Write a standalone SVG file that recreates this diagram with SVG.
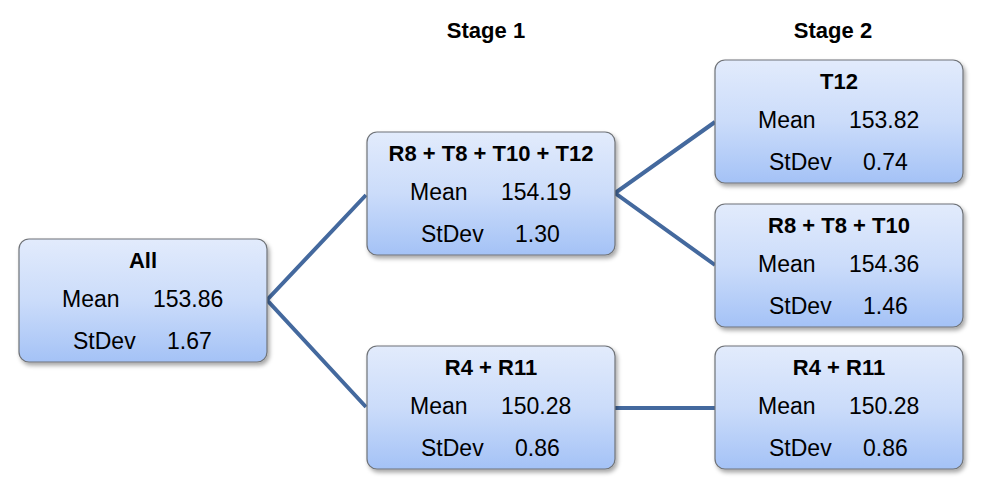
<svg xmlns="http://www.w3.org/2000/svg" width="988" height="501" viewBox="0 0 988 501">
<defs>
<linearGradient id="g" x1="0" y1="0" x2="0" y2="1">
<stop offset="0" stop-color="#e2ebfc"/>
<stop offset="0.5" stop-color="#cbdcfa"/>
<stop offset="1" stop-color="#a4c2f6"/>
</linearGradient>
<filter id="sh" x="-10%" y="-10%" width="125%" height="130%">
<feDropShadow dx="2" dy="3" stdDeviation="2.2" flood-color="#000" flood-opacity="0.35"/>
</filter>
</defs>
<style>
.box{fill:url(#g);stroke:#6f7378;stroke-width:1.2;filter:url(#sh)}
.t{font-family:"Liberation Sans",Arial,sans-serif;font-size:23px;fill:#000}
.h{font-family:"Liberation Sans",Arial,sans-serif;font-size:22px;font-weight:bold;fill:#000;text-anchor:middle}
.c{fill:none;stroke:#44699e;stroke-width:4;stroke-linecap:butt;stroke-linejoin:miter}
</style>
<rect width="988" height="501" fill="#fff"/>
<g id="stage-labels">
<text class="h" x="486" y="38">Stage 1</text>
<text class="h" x="833" y="38">Stage 2</text>
</g>
<g id="connectors">
<polyline class="c" points="366,195 267,300 366,407"/>
<polyline class="c" points="715,122 615,193 715,265"/>
<line class="c" x1="615" y1="408" x2="715" y2="408"/>
</g>
<g id="node-all" transform="translate(19,239)">
<rect class="box" x="0" y="0" width="248" height="123" rx="10"/>
<text class="h" x="124" y="29">All</text>
<text class="t" x="43" y="68">Mean</text><text class="t" x="134" y="68">153.86</text>
<text class="t" x="54" y="110">StDev</text><text class="t" x="148" y="110">1.67</text>
</g>
<g id="node-s1a" transform="translate(367,132)">
<rect class="box" x="0" y="0" width="248" height="123" rx="10"/>
<text class="h" x="124" y="29">R8 + T8 + T10 + T12</text>
<text class="t" x="43" y="68">Mean</text><text class="t" x="134" y="68">154.19</text>
<text class="t" x="54" y="110">StDev</text><text class="t" x="148" y="110">1.30</text>
</g>
<g id="node-s1b" transform="translate(367,346)">
<rect class="box" x="0" y="0" width="248" height="123" rx="10"/>
<text class="h" x="124" y="29">R4 + R11</text>
<text class="t" x="43" y="68">Mean</text><text class="t" x="134" y="68">150.28</text>
<text class="t" x="54" y="110">StDev</text><text class="t" x="148" y="110">0.86</text>
</g>
<g id="node-s2a" transform="translate(715,60)">
<rect class="box" x="0" y="0" width="248" height="123" rx="10"/>
<text class="h" x="124" y="29">T12</text>
<text class="t" x="43" y="68">Mean</text><text class="t" x="134" y="68">153.82</text>
<text class="t" x="54" y="110">StDev</text><text class="t" x="148" y="110">0.74</text>
</g>
<g id="node-s2b" transform="translate(715,204)">
<rect class="box" x="0" y="0" width="248" height="123" rx="10"/>
<text class="h" x="124" y="29">R8 + T8 + T10</text>
<text class="t" x="43" y="68">Mean</text><text class="t" x="134" y="68">154.36</text>
<text class="t" x="54" y="110">StDev</text><text class="t" x="148" y="110">1.46</text>
</g>
<g id="node-s2c" transform="translate(715,346)">
<rect class="box" x="0" y="0" width="248" height="123" rx="10"/>
<text class="h" x="124" y="29">R4 + R11</text>
<text class="t" x="43" y="68">Mean</text><text class="t" x="134" y="68">150.28</text>
<text class="t" x="54" y="110">StDev</text><text class="t" x="148" y="110">0.86</text>
</g>
</svg>
